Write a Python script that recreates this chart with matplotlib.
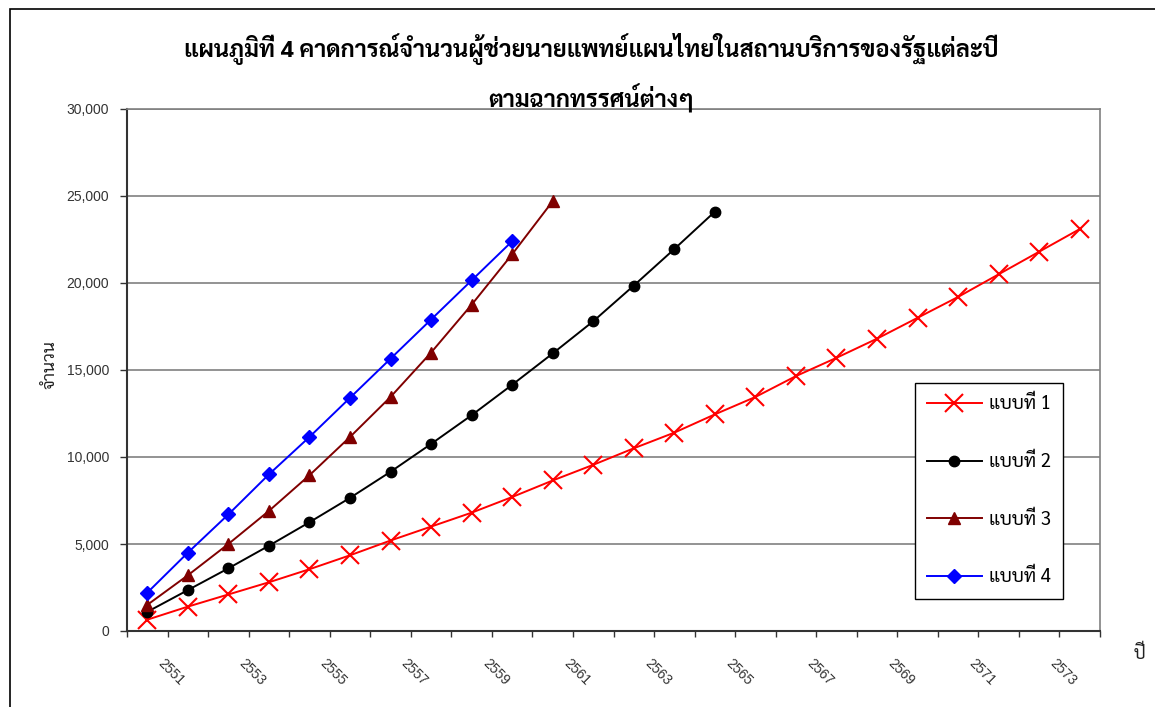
import matplotlib
matplotlib.use('Agg')
import matplotlib.pyplot as plt
import matplotlib.transforms as mtransforms
from matplotlib.patches import Rectangle
import numpy as np

thai = ['Sarabun', 'DejaVu Sans']
plt.rcParams['font.family'] = ['Liberation Sans', 'DejaVu Sans']

years = list(range(2551, 2575))
# แบบที่ 1 .. 4 (จำนวนผู้ช่วยนายแพทย์แผนไทย)
s1 = [650, 1400, 2100, 2800, 3550, 4350, 5200, 6000, 6800, 7700, 8650, 9550,
      10500, 11400, 12450, 13450, 14650, 15700, 16800, 18000, 19200, 20500,
      21800, 23100]
s2 = [1100, 2350, 3600, 4900, 6250, 7650, 9150, 10750, 12400, 14150, 15950,
      17800, 19850, 21950, 24100]
s3 = [1500, 3200, 5000, 6900, 8950, 11150, 13450, 16000, 18750, 21650, 24700]
s4 = [2200, 4500, 6700, 9000, 11150, 13400, 15650, 17900, 20150, 22400]
names = ['แบบที่ 1', 'แบบที่ 2', 'แบบที่ 3', 'แบบที่ 4']

W, H = 1155, 707
fig = plt.figure(figsize=(W / 100, H / 100), dpi=100)
ax = fig.add_axes([127 / W, 1 - 631 / H, (1100 - 127) / W, (631 - 109) / H])

x = np.arange(len(years))
ax.plot(x[:len(s1)], s1, color='#ff0000', lw=1.4, marker='x', ms=13, mew=1.5, label=names[0])
ax.plot(x[:len(s2)], s2, color='black', lw=1.4, marker='o', ms=7.5, label=names[1])
ax.plot(x[:len(s3)], s3, color='#800000', lw=1.4, marker='^', ms=9, label=names[2])
ax.plot(x[:len(s4)], s4, color='#0000ff', lw=1.4, marker='D', ms=7, label=names[3])

ax.set_xlim(-0.5, len(years) - 0.5)
ax.set_ylim(0, 30000)
ax.set_yticks(np.arange(0, 30001, 5000))
ax.set_yticklabels(['{:,}'.format(v) for v in range(0, 30001, 5000)])
ax.yaxis.grid(True, color='#808080', lw=1.2)
ax.set_axisbelow(True)

ax.set_xticks(x[::2])
ax.set_xticklabels([str(y) for y in years[::2]], rotation=-45, ha='center', va='center',
                   rotation_mode='anchor')
ax.set_xticks(np.arange(-0.5, len(years), 1), minor=True)
ax.tick_params(axis='x', which='major', length=0, pad=29.5, labelsize=10, labelcolor='#333333')
ax.tick_params(axis='x', which='minor', length=4.5, width=1, color='#333333', direction='out')
ax.tick_params(axis='y', length=5, width=1, color='#333333', labelsize=10,
               labelcolor='#333333', pad=8)
shift = mtransforms.ScaledTranslation(0.24, 0, fig.dpi_scale_trans)
for lab in ax.get_xticklabels():
    lab.set_transform(lab.get_transform() + shift)

for side in ['top', 'right']:
    ax.spines[side].set_color('#808080')
    ax.spines[side].set_linewidth(1.2)
for side in ['left', 'bottom']:
    ax.spines[side].set_color('#333333')
    ax.spines[side].set_linewidth(1.5)

fig.text(591 / W, 1 - 73 / H,
         'แผนภูมิที่ 4 คาดการณ์จำนวนผู้ช่วยนายแพทย์แผนไทยในสถานบริการของรัฐแต่ละปี\nตามฉากทรรศน์ต่างๆ',
         ha='center', va='center', fontsize=17, fontweight='bold', family=thai, linespacing=1.75)
fig.text(50 / W, 1 - 365 / H, 'จำนวน', rotation=90, ha='center', va='center',
         fontsize=12.5, family=thai, color='#222222')
fig.text(1140 / W, 1 - 654 / H, 'ปี', ha='center', va='center', fontsize=13,
         family=thai, color='#222222')

leg = ax.legend(loc='upper left', bbox_to_anchor=(915 / W, 1 - 383 / H),
                bbox_transform=fig.transFigure, borderaxespad=0, fancybox=False,
                framealpha=1, edgecolor='black', prop={'family': thai, 'size': 13.5},
                labelspacing=2.1, handlelength=2.9, handletextpad=0.4, borderpad=0.65)
leg.get_frame().set_linewidth(1)

fig.patches.append(Rectangle((10 / W, -0.1), 1.2, 1 - 9 / H + 0.1, transform=fig.transFigure,
                             fill=False, edgecolor='black', lw=1.2))

fig.savefig('out.png', dpi=100)
